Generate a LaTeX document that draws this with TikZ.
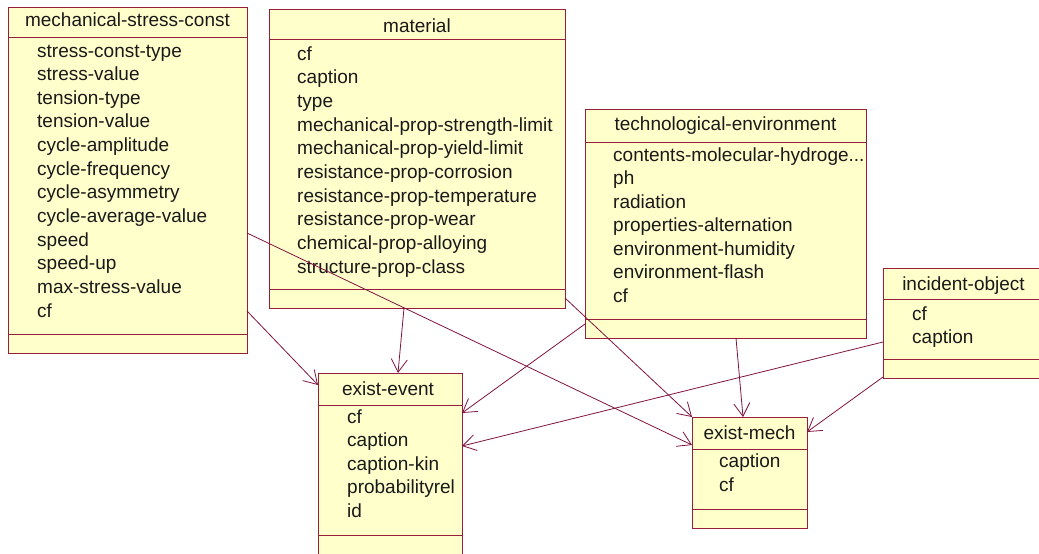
\documentclass[tikz,border=0pt]{standalone}
\usepackage{fontspec}
\setmainfont{Liberation Sans}
\usetikzlibrary{arrows.meta,calc}
\definecolor{clsfill}{RGB}{255,255,204}
\definecolor{clsline}{RGB}{153,30,60}
\definecolor{linkcol}{RGB}{128,20,64}
\definecolor{txt}{RGB}{25,25,25}

\begin{document}
\begin{tikzpicture}[x=1pt,y=-1pt,
  classbox/.style={draw=clsline, fill=clsfill, line width=0.9pt, inner sep=0pt, outer sep=0pt, anchor=north west},
  rule/.style={draw=clsline, line width=0.9pt},
  title/.style={anchor=base, inner sep=0pt, font=\fontsize{19}{22}\selectfont, text=txt},
  attr/.style={anchor=base west, inner sep=0pt, font=\fontsize{19}{22}\selectfont, text=txt},
  link/.style={draw=linkcol, line width=0.8pt, -{Straight Barb[length=13pt,width=16pt,line width=0.8pt]}},
]
\useasboundingbox[fill=white] (0,0) rectangle (1039,554);
\clip (0,0) rectangle (1039,554);

% mechanical-stress-const
\node[classbox, minimum width=239pt, minimum height=346pt] (msc) at (8,7) {};
\draw[rule] ($(msc.north west)+(0,30)$) -- ($(msc.north east)+(0,30)$);
\draw[rule] ($(msc.north west)+(0,327)$) -- ($(msc.north east)+(0,327)$);
\node[title] (msc-t) at (127.5,27) {mechanical-stress-const};
\foreach \a [count=\i] in {stress-const-type, stress-value, tension-type, tension-value,
  cycle-amplitude, cycle-frequency, cycle-asymmetry, cycle-average-value, speed,
  speed-up, max-stress-value, cf}
  \node[attr] (msc-\i) at (37,{57+23.64*(\i-1)}) {\a};

% material
\node[classbox, minimum width=296pt, minimum height=299pt] (mat) at (269,9) {};
\draw[rule] ($(mat.north west)+(0,30)$) -- ($(mat.north east)+(0,30)$);
\draw[rule] ($(mat.north west)+(0,280)$) -- ($(mat.north east)+(0,280)$);
\node[title] (mat-t) at (417,32) {material};
\foreach \a [count=\i] in {cf, caption, type, mechanical-prop-strength-limit,
  mechanical-prop-yield-limit, resistance-prop-corrosion, resistance-prop-temperature,
  resistance-prop-wear, chemical-prop-alloying, structure-prop-class}
  \node[attr] (mat-\i) at (297,{60+23.67*(\i-1)}) {\a};

% technological-environment
\node[classbox, minimum width=281pt, minimum height=229pt] (tech) at (585,109) {};
\draw[rule] ($(tech.north west)+(0,33)$) -- ($(tech.north east)+(0,33)$);
\draw[rule] ($(tech.north west)+(0,210)$) -- ($(tech.north east)+(0,210)$);
\node[title] (tech-t) at (725.5,130) {technological-environment};
\foreach \a [count=\i] in {{contents-molecular-hydroge.{}.{}.}, ph, radiation,
  properties-alternation, environment-humidity, environment-flash, cf}
  \node[attr] (tech-\i) at (613,{161+23.5*(\i-1)}) {\a};

% incident-object (runs past the right margin)
\node[classbox, minimum width=161pt, minimum height=110pt] (inc) at (883,268) {};
\draw[rule] ($(inc.north west)+(0,31)$) -- ($(inc.north east)+(0,31)$);
\draw[rule] ($(inc.north west)+(0,91)$) -- ($(inc.north east)+(0,91)$);
\node[title] (inc-t) at (963.5,290) {incident-object};
\foreach \a [count=\i] in {cf, caption}
  \node[attr] (inc-\i) at (912,{320+23*(\i-1)}) {\a};

% exist-event (runs past the bottom margin)
\node[classbox, minimum width=144pt, minimum height=184pt] (event) at (318,373) {};
\draw[rule] ($(event.north west)+(0,32)$) -- ($(event.north east)+(0,32)$);
\draw[rule] ($(event.north west)+(0,162)$) -- ($(event.north east)+(0,162)$);
\node[title] (event-t) at (388,395) {exist-event};
\foreach \a [count=\i] in {cf, caption, caption-kin, probabilityrel, id}
  \node[attr] (event-\i) at (347,{423+23.5*(\i-1)}) {\a};

% exist-mech
\node[classbox, minimum width=115pt, minimum height=111pt] (mech) at (692,417) {};
\draw[rule] ($(mech.north west)+(0,32)$) -- ($(mech.north east)+(0,32)$);
\draw[rule] ($(mech.north west)+(0,92)$) -- ($(mech.north east)+(0,92)$);
\node[title] (mech-t) at (749.5,439) {exist-mech};
\foreach \a [count=\i] in {caption, cf}
  \node[attr] (mech-\i) at (719,{467+24*(\i-1)}) {\a};

% associations
\draw[link] ($(msc.north east)+(0,304)$) -- ($(event.north west)+(0,12)$);
\draw[link] ($(msc.north east)+(0,226)$) -- ($(mech.north west)+(0,28)$);
\draw[link] ($(mat.south west)+(135,0)$) -- ($(event.north west)+(80,0)$);
\draw[link] ($(mat.north east)+(0,289)$) -- (mech.north west);
\draw[link] ($(tech.north west)+(0,215)$) -- ($(event.north east)+(0,40)$);
\draw[link] ($(tech.south west)+(151,0)$) -- ($(mech.north west)+(51,0)$);
\draw[link] ($(inc.north west)+(0,74)$) -- ($(event.north east)+(0,73)$);
\draw[link] ($(inc.south west)+(0,-1)$) -- ($(mech.north east)+(0,15)$);
\end{tikzpicture}
\end{document}
